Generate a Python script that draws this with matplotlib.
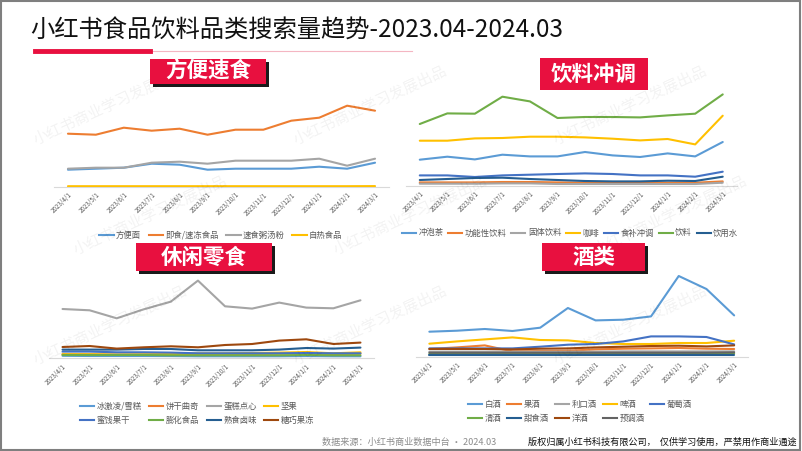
import matplotlib.pyplot as plt
from matplotlib.patches import Rectangle
from matplotlib.lines import Line2D

plt.rcParams["font.family"] = ["Noto Sans CJK SC", "DejaVu Sans"]

W, H = 802, 451

months = ["2023/4/1", "2023/5/1", "2023/6/1", "2023/7/1", "2023/8/1", "2023/9/1",
          "2023/10/1", "2023/11/1", "2023/12/1", "2024/1/1", "2024/2/1", "2024/3/1"]

# 方便速食
instant_names = ["方便面", "即食/速冻食品", "速食粥汤粉", "自热食品"]
instant_noodle = [17, 18, 19, 23, 22, 17, 18, 18, 18, 20, 18, 24]
instant_frozen = [53, 52, 59, 56, 58, 52, 57, 57, 66, 69, 81, 76]
instant_congee = [18, 19, 19, 24, 25, 23, 26, 26, 26, 28, 21, 28]
instant_selfheat = [0.5, 0.5, 0.5, 0.5, 0.5, 0.5, 0.5, 0.5, 0.5, 0.5, 0.5, 0.6]

# 饮料冲调
drink_names = ["冲泡茶", "功能性饮料", "固体饮料", "咖啡", "食补冲调", "饮料", "饮用水"]
drink_tea = [26, 29, 26.3, 31, 29.3, 29.3, 33.7, 30.3, 28.7, 32.3, 29.3, 43.7]
drink_functional = [3.3, 3.3, 3.3, 3.7, 3.7, 3.3, 3.0, 3.0, 3.0, 3.0, 3.0, 4.3]
drink_solid = [2, 2, 2, 2.3, 2.3, 1.7, 1.7, 1.7, 1.7, 1.7, 1.7, 3]
drink_coffee = [45, 45, 47.3, 47.7, 49, 49, 48.3, 47, 45.3, 46.7, 41.3, 70]
drink_tonic = [10.3, 10.3, 8.7, 10.3, 11, 11.7, 12.3, 11.7, 10.3, 10.3, 9, 14]
drink_beverage = [61.7, 72.3, 72, 89, 84.3, 67.7, 68.7, 68.7, 68.3, 70.3, 72, 91.3]
drink_water = [5.7, 6.7, 7.7, 8, 6.7, 5.7, 4.7, 4.3, 4.3, 5, 4.7, 9]

# 休闲零食
snack_names = ["冰激凌/雪糕", "饼干曲奇", "蛋糕点心", "坚果", "蜜饯果干", "膨化食品", "熟食卤味", "糖巧果冻"]
snack_icecream = [2.5, 2.3, 2.3, 2.3, 2.2, 2.0, 2.0, 2.0, 2.0, 2.2, 2.0, 2.0]
snack_biscuit = [4, 4, 3.7, 3.7, 3.7, 4, 4.3, 4.3, 4.7, 5, 4.3, 4.7]
snack_cake = [49.3, 48, 40, 49, 56.7, 77.7, 52, 49.7, 55.7, 50.7, 50, 58]
snack_nuts = [4, 4, 3.7, 4, 4.3, 5, 5, 5.3, 5.7, 6.3, 5, 6]
snack_dried = [6.7, 6.7, 6, 6, 5.7, 5, 5, 5, 5, 5.3, 5, 5]
snack_puffed = [3.3, 3.3, 3.3, 3.3, 3, 3, 3, 3, 3, 3.3, 3, 3]
snack_deli = [8.7, 8.7, 8.7, 9.3, 9.3, 8, 8, 8, 8.7, 10.3, 9.7, 10.7]
snack_candy = [11.3, 12.3, 9.7, 11, 12, 11, 13.3, 14.3, 17.7, 19, 14.3, 15.7]

# 酒类
wine_names = ["白酒", "果酒", "利口酒", "啤酒", "葡萄酒", "清酒", "甜食酒", "洋酒", "预调酒"]
wine_baijiu = [25, 26, 27.7, 25.7, 29, 48.7, 36.3, 37, 40.3, 80.7, 67.7, 41.3]
wine_fruit = [7.7, 9.3, 11.3, 5.3, 5.7, 6, 7.3, 8, 8.3, 8.7, 8, 7.7]
wine_liqueur = [5, 5, 5, 5, 5, 5, 5, 5.3, 5.3, 5.3, 5.3, 5.3]
wine_beer = [13, 15.3, 17.3, 19.3, 16.7, 16.3, 13.7, 12.7, 12.7, 13.7, 13.7, 16]
wine_grape = [8.3, 8.3, 8.3, 8.3, 10, 12, 12.7, 15.3, 20.3, 20.3, 19.7, 12.3]
wine_sake = [2.7, 2.7, 2.7, 2.7, 2.7, 2.7, 3, 3, 3, 3, 3, 3]
wine_sweet = [1.3, 1.3, 1.3, 1.3, 1.3, 1.3, 1.3, 1.3, 1.3, 1.3, 1.3, 1.3]
wine_spirits = [7.7, 7.7, 7.7, 7.3, 8, 8.3, 9.3, 10, 10.7, 11, 10.3, 11.3]
wine_premix = [4, 4, 4, 4, 4, 4, 4, 4, 4, 4, 4, 4.3]

COLORS = ["#5B9BD5", "#ED7D31", "#A5A5A5", "#FFC000", "#4472C4",
          "#70AD47", "#255E91", "#9E480E", "#636363"]
RED = "#E8103F"


def px_axes(fig, left, right, top, bottom):
    return fig.add_axes([left / W, 1 - bottom / H, (right - left) / W, (bottom - top) / H])


def draw_panel(fig, box, ymax, series):
    ax = px_axes(fig, *box)
    ax.patch.set_alpha(0)
    x = range(len(months))
    for i, ys in enumerate(series):
        ax.plot(x, ys, color=COLORS[i], lw=1.5, solid_capstyle="round", zorder=2 + i)
    ax.set_xlim(-0.5, len(months) - 0.5)
    ax.set_ylim(0, ymax)
    for s in ["top", "right", "left"]:
        ax.spines[s].set_visible(False)
    ax.spines["bottom"].set_color("#D9D9D9")
    ax.spines["bottom"].set_linewidth(0.8)
    ax.set_yticks([])
    ax.set_xticks(list(x))
    ax.set_xticklabels(months, rotation=45, ha="right", rotation_mode="anchor",
                       fontsize=4.5, color="#595959")
    ax.tick_params(axis="x", length=0, pad=3)
    return ax


def add_legend(fig, ax, names, order, cx, cy, ncol, colsp=0.9):
    handles = [Line2D([], [], color=COLORS[i], lw=1.5) for i in order]
    labels = [names[i] for i in order]
    leg = ax.legend(handles, labels, loc="center", bbox_to_anchor=(cx / W, 1 - cy / H),
                    bbox_transform=fig.transFigure, ncol=ncol, frameon=False,
                    fontsize=6, handlelength=1.7, handletextpad=0.3,
                    columnspacing=colsp, labelspacing=0.6, borderpad=0)
    for t in leg.get_texts():
        t.set_color("#595959")


def label_box(fig, x0, x1, y0, y1, text, shadow=True):
    if shadow:
        fig.patches.append(Rectangle(((x0 + 3) / W, 1 - (y1 + 3) / H), (x1 - x0) / W, (y1 - y0) / H,
                                     transform=fig.transFigure, facecolor="#1A1A1A",
                                     edgecolor="none", zorder=3))
    fig.patches.append(Rectangle((x0 / W, 1 - y1 / H), (x1 - x0) / W, (y1 - y0) / H,
                                 transform=fig.transFigure, facecolor=RED,
                                 edgecolor="none", zorder=4))
    fig.text((x0 + x1) / 2 / W, 1 - (y0 + y1) / 2 / H, text, color="white",
             fontsize=15.5, fontweight="bold", style="italic",
             ha="center", va="center", zorder=5)


fig = plt.figure(figsize=(W / 100, H / 100), dpi=100)
fig.patch.set_facecolor("white")

# watermark
for row, wy in enumerate([105, 215, 325]):
    for wx in [110, 370, 630]:
        fig.text((wx + (row % 2) * 40) / W, 1 - wy / H, "小红书商业学习发展出品",
                 fontsize=11, color="#000000", alpha=0.05, rotation=25,
                 ha="center", va="center", zorder=0)

# frame
fig.patches.append(Rectangle((0.001, 0.002), 0.997, 0.995, transform=fig.transFigure,
                             fill=False, edgecolor="#7F7F7F", lw=1.5, zorder=10))

# title
fig.text(30 / W, 1 - 31 / H, "小红书食品饮料品类搜索量趋势-2023.04-2024.03",
         fontsize=17.5, color="#111111", ha="left", va="center")
fig.add_artist(Line2D([150 / W, 412 / W], [1 - 51 / H, 1 - 51 / H], color="#F4B6C2", lw=0.8))
fig.add_artist(Line2D([35 / W, 150 / W], [1 - 51 / H, 1 - 51 / H], color=RED, lw=3.5))

ax1 = draw_panel(fig, (54, 389, 95, 186.7), 91.7,
                 [instant_noodle, instant_frozen, instant_congee, instant_selfheat])
add_legend(fig, ax1, instant_names, [0, 1, 2, 3], 221, 235, 4)

ax2 = draw_panel(fig, (406, 736.5, 90, 185.7), 95.7,
                 [drink_tea, drink_functional, drink_solid, drink_coffee,
                  drink_tonic, drink_beverage, drink_water])
add_legend(fig, ax2, drink_names, list(range(7)), 570, 233, 7, colsp=0.55)

ax3 = draw_panel(fig, (49, 374, 275, 358.3), 83.3,
                 [snack_icecream, snack_biscuit, snack_cake, snack_nuts,
                  snack_dried, snack_puffed, snack_deli, snack_candy])
add_legend(fig, ax3, snack_names, [0, 4, 1, 5, 2, 6, 3, 7], 197, 413, 4)

ax4 = draw_panel(fig, (415.5, 748, 270, 356.7), 86.7,
                 [wine_baijiu, wine_fruit, wine_liqueur, wine_beer, wine_grape,
                  wine_sake, wine_sweet, wine_spirits, wine_premix])
add_legend(fig, ax4, wine_names, [0, 5, 1, 6, 2, 7, 3, 8, 4], 580, 411, 5, colsp=0.7)

label_box(fig, 150, 266, 59, 84, "方便速食")
label_box(fig, 540, 648, 58, 90, "饮料冲调", shadow=False)
label_box(fig, 136, 272, 243, 271, "休闲零食")
label_box(fig, 542, 645, 243, 271, "酒类")

# footer
fig.text(322 / W, 1 - 442 / H, "数据来源：小红书商业数据中台 · 2024.03",
         fontsize=6.6, color="#8C8C8C", ha="left", va="center")
fig.text(797 / W, 1 - 442 / H, "版权归属小红书科技有限公司，  仅供学习使用，严禁用作商业通途",
         fontsize=6.6, color="#111111", ha="right", va="center")

fig.savefig("out.png", dpi=100)
